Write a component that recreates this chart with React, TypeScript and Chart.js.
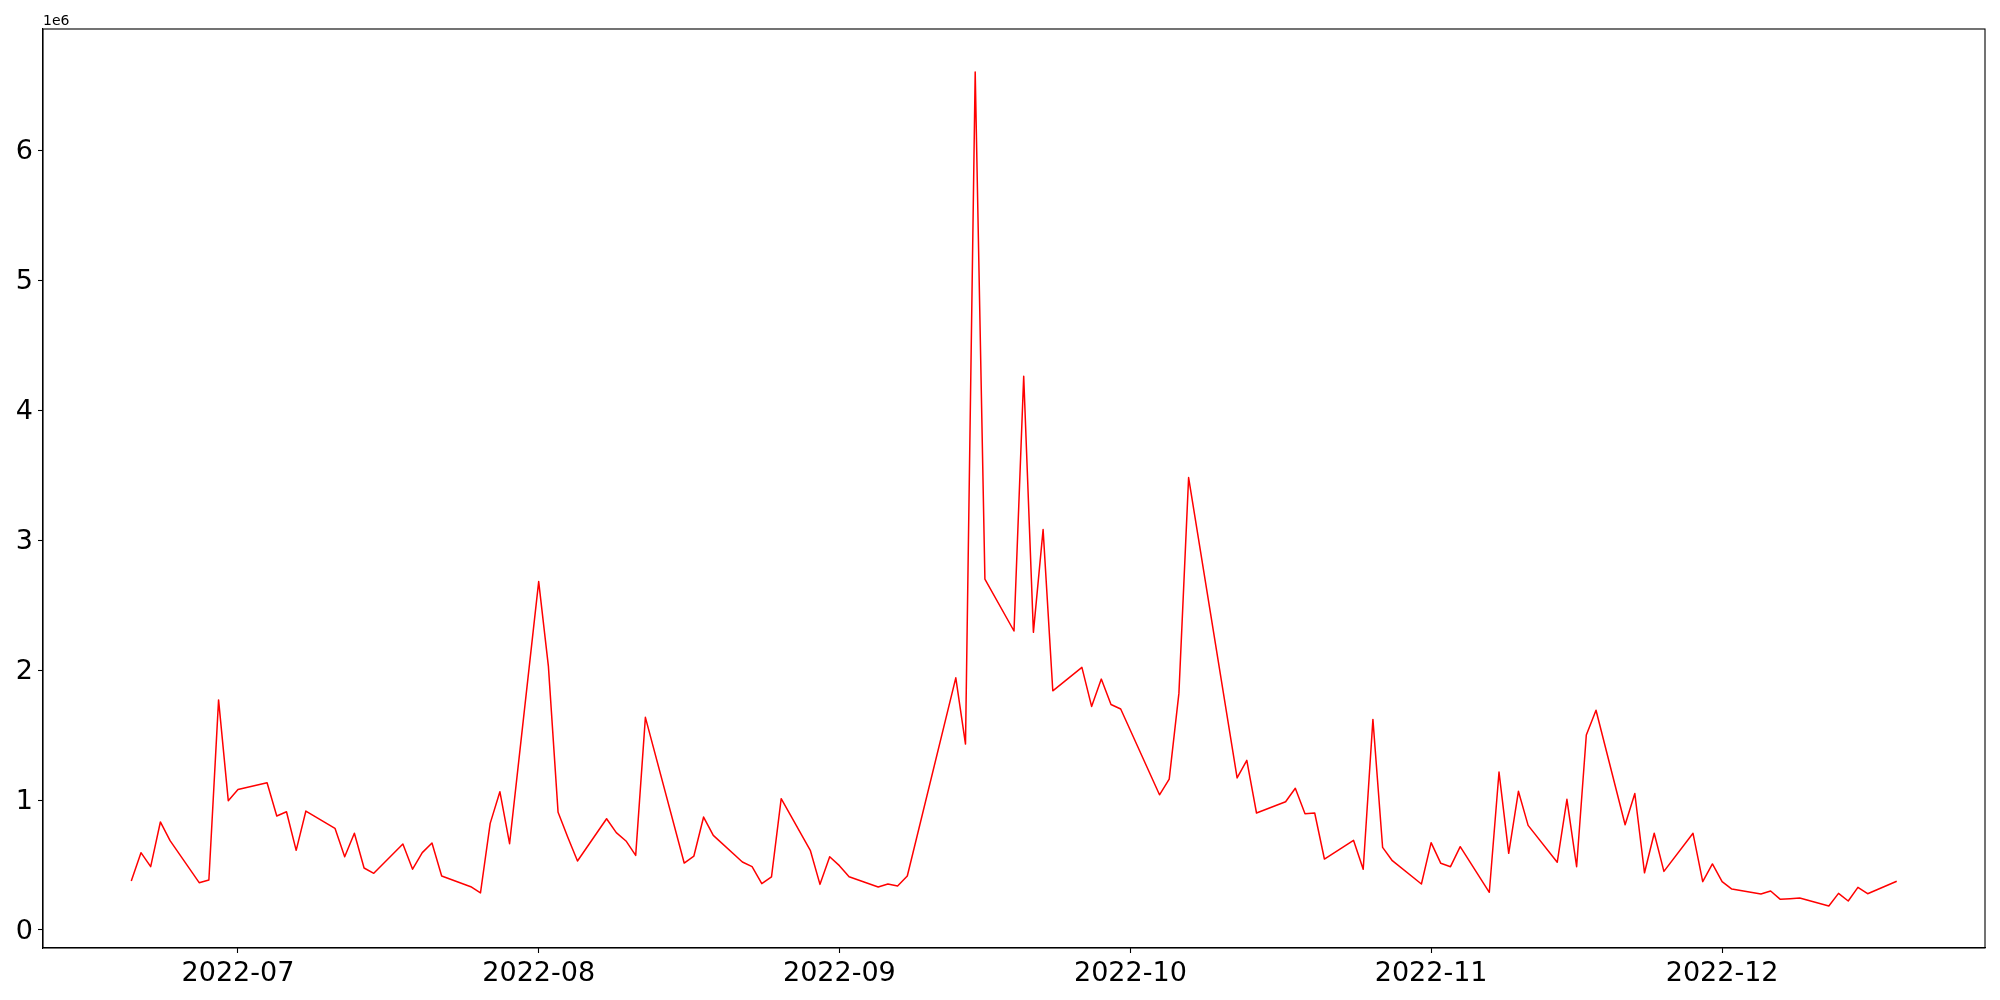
import React, { useEffect, useRef } from 'react';
import { Chart, registerables } from 'chart.js';

Chart.register(...registerables);

// ---- data ----
const dates: string[] = [
  '2022-06-20', '2022-06-21', '2022-06-22', '2022-06-23', '2022-06-24', '2022-06-27', '2022-06-28', '2022-06-29', '2022-06-30',
  '2022-07-01', '2022-07-04', '2022-07-05', '2022-07-06', '2022-07-07', '2022-07-08', '2022-07-11', '2022-07-12', '2022-07-13',
  '2022-07-14', '2022-07-15', '2022-07-18', '2022-07-19', '2022-07-20', '2022-07-21', '2022-07-22', '2022-07-25', '2022-07-26',
  '2022-07-27', '2022-07-28', '2022-07-29',
  '2022-08-01', '2022-08-02', '2022-08-03', '2022-08-04', '2022-08-05', '2022-08-08', '2022-08-09', '2022-08-10', '2022-08-11',
  '2022-08-12', '2022-08-16', '2022-08-17', '2022-08-18', '2022-08-19', '2022-08-22', '2022-08-23', '2022-08-24', '2022-08-25',
  '2022-08-26', '2022-08-29', '2022-08-30', '2022-08-31',
  '2022-09-01', '2022-09-02', '2022-09-05', '2022-09-06', '2022-09-07', '2022-09-08', '2022-09-13', '2022-09-14', '2022-09-15',
  '2022-09-16', '2022-09-19', '2022-09-20', '2022-09-21', '2022-09-22', '2022-09-23', '2022-09-26', '2022-09-27', '2022-09-28',
  '2022-09-29', '2022-09-30',
  '2022-10-04', '2022-10-05', '2022-10-06', '2022-10-07', '2022-10-12', '2022-10-13', '2022-10-14', '2022-10-17', '2022-10-18',
  '2022-10-19', '2022-10-20', '2022-10-21', '2022-10-24', '2022-10-25', '2022-10-26', '2022-10-27', '2022-10-28', '2022-10-31',
  '2022-11-01', '2022-11-02', '2022-11-03', '2022-11-04', '2022-11-07', '2022-11-08', '2022-11-09', '2022-11-10', '2022-11-11',
  '2022-11-14', '2022-11-15', '2022-11-16', '2022-11-17', '2022-11-18', '2022-11-21', '2022-11-22', '2022-11-23', '2022-11-24',
  '2022-11-25', '2022-11-28', '2022-11-29', '2022-11-30',
  '2022-12-01', '2022-12-02', '2022-12-05', '2022-12-06', '2022-12-07', '2022-12-08', '2022-12-09', '2022-12-12', '2022-12-13',
  '2022-12-14', '2022-12-15', '2022-12-16', '2022-12-19',
];

const values: number[] = [
  // June
  377000, 595000, 487000, 831000, 687000, 364000, 385000, 1770000, 995000,
  // July
  1080000, 1133000, 877000, 910000, 613000, 915000, 782000, 564000, 744000, 477000, 436000,
  662000, 468000, 595000, 669000, 415000, 333000, 285000, 820000, 1064000, 664000,
  // August
  2680000, 2030000, 905000, 713000, 531000, 856000, 749000, 685000, 574000, 1636000, 515000,
  569000, 869000, 728000, 523000, 487000, 356000, 408000, 1010000, 613000, 351000, 564000,
  // September
  495000, 410000, 331000, 354000, 338000, 415000, 1940000, 1430000, 6600000, 2700000,
  2300000, 4260000, 2290000, 3080000, 1840000, 2020000, 1720000, 1930000, 1735000, 1700000,
  // October
  1040000, 1160000, 1820000, 3480000, 1170000, 1305000, 900000, 987000, 1090000, 895000,
  900000, 546000, 690000, 467000, 1620000, 636000, 533000, 354000,
  // November
  672000, 513000, 487000, 641000, 290000, 1215000, 590000, 1067000, 805000, 521000, 1005000,
  487000, 1500000, 1690000, 810000, 1050000, 440000, 744000, 451000, 744000, 372000, 508000,
  // December
  372000, 315000, 277000, 300000, 236000, 241000, 246000, 185000, 282000, 223000, 328000, 279000, 375000,
];

const monthTicks: string[] = ['2022-07-01', '2022-08-01', '2022-09-01', '2022-10-01', '2022-11-01', '2022-12-01'];
const monthLabels: string[] = ['2022-07', '2022-08', '2022-09', '2022-10', '2022-11', '2022-12'];
const yTicks: number[] = [0, 1000000, 2000000, 3000000, 4000000, 5000000, 6000000];
const yTickLabels: string[] = ['0', '1', '2', '3', '4', '5', '6'];
const offsetText = '1e6';

const DAY = 86400000;
const ORIGIN = Date.UTC(2022, 6, 1);
const toDay = (s: string) => {
  const [y, m, d] = s.split('-').map(Number);
  return (Date.UTC(y, m - 1, d) - ORIGIN) / DAY;
};

const FONT = "'DejaVu Sans', sans-serif";

export default function App() {
  const ref = useRef<HTMLCanvasElement | null>(null);

  useEffect(() => {
    if (!ref.current) return;
    const points = dates.map((d, i) => ({ x: toDay(d), y: values[i] }));
    const xTickVals = monthTicks.map(toDay);

    const framePlugin = {
      id: 'frame',
      afterDraw(chart: any) {
        const { ctx, chartArea } = chart;
        ctx.save();
        ctx.strokeStyle = '#000';
        ctx.lineWidth = 1.1;
        ctx.strokeRect(chartArea.left, chartArea.top, chartArea.right - chartArea.left, chartArea.bottom - chartArea.top);
        ctx.fillStyle = '#000';
        ctx.font = `14px ${FONT}`;
        ctx.textAlign = 'left';
        ctx.textBaseline = 'alphabetic';
        ctx.fillText(offsetText, chartArea.left, chartArea.top - 4);
        ctx.restore();
      },
    };

    const chart = new Chart(ref.current, {
      type: 'line',
      data: {
        datasets: [
          {
            data: points,
            borderColor: '#ff0000',
            borderWidth: 1.5,
            borderJoinStyle: 'round',
            pointRadius: 0,
            tension: 0,
            fill: false,
          },
        ],
      },
      options: {
        responsive: false,
        animation: false,
        layout: { padding: { top: 29, right: 15, left: 0, bottom: 0 } },
        plugins: {
          legend: { display: false },
          tooltip: { enabled: false },
        },
        scales: {
          x: {
            type: 'linear',
            min: -20.1,
            max: 180.1,
            afterBuildTicks: (axis: any) => {
              axis.ticks = xTickVals.map((v) => ({ value: v }));
            },
            afterFit: (scale: any) => {
              scale.height = 52;
            },
            ticks: {
              autoSkip: false,
              maxRotation: 0,
              padding: 5,
              color: '#000',
              font: { family: FONT, size: 27 },
              callback: (v: any) => {
                const i = xTickVals.indexOf(Number(v));
                return i >= 0 ? monthLabels[i] : '';
              },
            },
            grid: {
              drawOnChartArea: false,
              drawTicks: true,
              tickLength: 5,
              tickWidth: 1.1,
              tickColor: '#000',
              color: '#000',
            },
            border: { display: true, color: '#000', width: 1.1 },
          },
          y: {
            type: 'linear',
            min: -138500,
            max: 6931000,
            afterBuildTicks: (axis: any) => {
              axis.ticks = yTicks.map((v) => ({ value: v }));
            },
            afterFit: (scale: any) => {
              scale.width = 43;
            },
            ticks: {
              autoSkip: false,
              padding: 5,
              labelOffset: 2,
              color: '#000',
              font: { family: FONT, size: 27 },
              callback: (v: any) => {
                const i = yTicks.indexOf(Number(v));
                return i >= 0 ? yTickLabels[i] : '';
              },
            },
            grid: {
              drawOnChartArea: false,
              drawTicks: true,
              tickLength: 5,
              tickWidth: 1.1,
              tickColor: '#000',
              color: '#000',
            },
            border: { display: true, color: '#000', width: 1.1 },
          },
        },
      },
      plugins: [framePlugin],
    } as any);

    return () => chart.destroy();
  }, []);

  return (
    <div style={{ position: 'absolute', left: 0, top: 0, width: 2000, height: 1000, background: '#fff' }}>
      <canvas ref={ref} width={2000} height={1000} style={{ display: 'block', width: 2000, height: 1000 }} />
    </div>
  );
}
